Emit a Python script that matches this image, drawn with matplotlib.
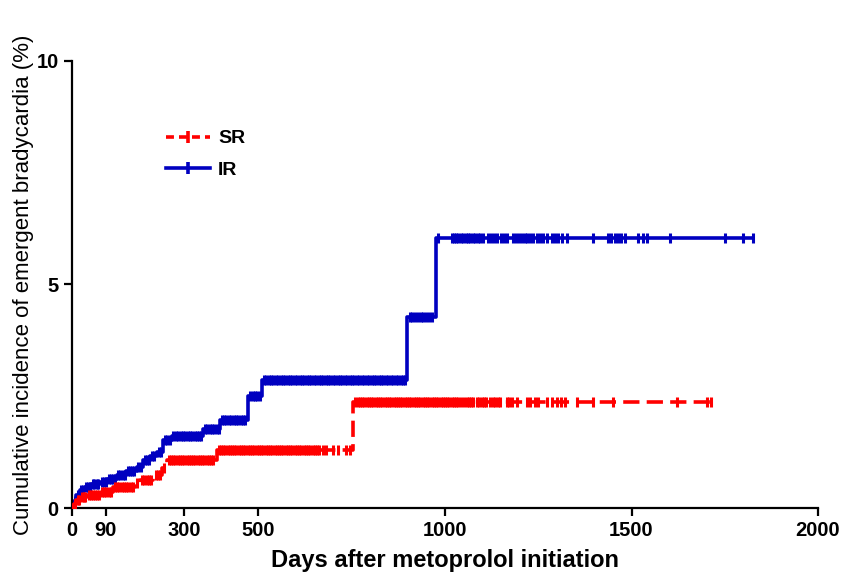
import numpy as np
import matplotlib
matplotlib.use("Agg")
import matplotlib.pyplot as plt

plt.rcParams['font.family'] = ['Liberation Sans', 'DejaVu Sans']

# IR (immediate release) step curve: event days and cumulative incidence (%)
ir_days = [0, 5, 12, 21, 35, 50, 75, 95, 120, 145, 173, 191, 210, 227, 245, 267, 352, 397, 473, 510, 898, 976]
ir_vals = [0, 0.15, 0.3, 0.4, 0.47, 0.53, 0.59, 0.66, 0.74, 0.82, 0.91, 1.07, 1.16, 1.26, 1.52, 1.62, 1.76, 1.97, 2.5, 2.86, 4.28, 6.05]
ir_end = 1827
ir_censor = [3, 8, 15, 18, 25, 30, 38, 43, 48, 55, 60, 66, 71, 80, 86, 91, 99, 104, 110, 116, 124, 130,
             136, 141, 150, 155, 161, 167, 178, 184, 196, 202, 206, 215, 220, 232, 238, 250, 256, 262,
             272, 278, 284, 291, 297, 303, 310, 316, 322, 329, 335, 341, 347, 357, 363, 369, 376, 382,
             388, 393, 402, 408, 414, 420, 427, 433, 440, 446, 452, 458, 465, 478, 484, 490, 497, 503,
             515, 521, 527, 533, 540, 546, 552, 559, 565, 571, 578, 584, 590, 597, 603, 610, 616, 622,
             629, 635, 641, 648, 655, 661, 667, 674, 680, 687, 693, 700, 706, 712, 719, 725, 732, 738,
             745, 751, 757, 764, 770, 777, 783, 790, 796, 803, 809, 816, 822, 829, 835, 842, 848, 855,
             861, 868, 874, 881, 887, 893, 905, 912, 920, 928, 935, 942, 950, 958, 965,
             980, 1018, 1024, 1030, 1036, 1042, 1049, 1055, 1062, 1068, 1075, 1081, 1088, 1094, 1103,
             1116, 1123, 1131, 1140, 1150, 1158, 1165, 1183, 1191, 1198, 1206, 1214, 1221, 1228, 1237,
             1246, 1256, 1264, 1273, 1286, 1295, 1304, 1314, 1326, 1398, 1438, 1445, 1455, 1463, 1471,
             1483, 1518, 1530, 1541, 1603, 1751, 1800, 1827]

# SR (sustained release) step curve
sr_days = [0, 5, 12, 21, 40, 75, 110, 169, 182, 218, 240, 254, 388, 754]
sr_vals = [0, 0.1, 0.18, 0.25, 0.3, 0.36, 0.47, 0.55, 0.63, 0.74, 0.9, 1.07, 1.3, 2.38]
sr_end = 1713
sr_censor = [3, 8, 15, 18, 26, 32, 36, 45, 50, 56, 62, 68, 72, 80, 86, 92, 98, 104, 115, 121, 127,
             133, 139, 145, 151, 157, 163, 175, 188, 194, 200, 206, 212, 224, 230, 236, 246, 259, 265,
             271, 277, 283, 289, 295, 301, 307, 313, 319, 325, 331, 337, 343, 349, 355, 361, 367, 373,
             379, 393, 399, 405, 411, 417, 423, 429, 435, 441, 447, 453, 459, 465, 471, 477, 483, 489,
             495, 501, 507, 513, 519, 525, 531, 537, 543, 549, 555, 561, 567, 573, 579, 585, 591, 597,
             603, 609, 615, 621, 627, 633, 639, 645, 651, 657, 663, 672, 680, 700, 712, 735, 745,
             760, 766, 772, 778, 784, 790, 796, 802, 808, 814, 820, 826, 832, 838, 844, 850, 856, 862,
             868, 874, 880, 886, 892, 898, 904, 910, 916, 922, 928, 934, 940, 946, 952, 958, 964, 970,
             976, 982, 988, 994, 1000, 1006, 1012, 1018, 1024, 1030, 1036, 1042, 1050, 1058, 1064,
             1070, 1076, 1085, 1092, 1098, 1104, 1110, 1120, 1128, 1135, 1141, 1147, 1165, 1172, 1180,
             1192, 1219, 1228, 1240, 1248, 1273, 1286, 1300, 1310, 1322, 1353, 1398, 1451, 1621, 1702,
             1713]

x_ticks = [0, 90, 300, 500, 1000, 1500, 2000]
y_ticks = [0, 5, 10]

blue = '#0000c0'
red = '#ff0000'


def step_value(days, vals, t):
    idx = np.searchsorted(days, t, side='right') - 1
    return np.array(vals)[idx]


fig = plt.figure(figsize=(8.49, 5.78), dpi=100)
ax = fig.add_axes([0.0848, 0.1211, 0.8787, 0.7734])

# curves
ax.step(ir_days + [ir_end], ir_vals + [ir_vals[-1]], where='post', color=blue, lw=2.6, zorder=2)
ax.step(sr_days + [sr_end], sr_vals + [sr_vals[-1]], where='post', color=red, lw=2.6,
        dashes=(4.5, 2), zorder=3)

# censor ticks
ax.plot(ir_censor, step_value(ir_days, ir_vals, ir_censor), ls='none', marker='|',
        ms=7.5, mew=2.2, color=blue, zorder=2)
ax.plot(sr_censor, step_value(sr_days, sr_vals, sr_censor), ls='none', marker='|',
        ms=7.5, mew=2.2, color=red, zorder=3)

# legend handles
h_sr, = ax.plot([], [], color=red, lw=2.6, dashes=(2.2, 1.4), marker='|', ms=9, mew=2.6)
h_ir, = ax.plot([], [], color=blue, lw=2.6, marker='|', ms=8, mew=2.6)
leg = ax.legend([h_sr, h_ir], ['SR', 'IR'], loc='upper left', bbox_to_anchor=(0.102, 0.885),
                frameon=False, numpoints=1, handlelength=2.3, handletextpad=0.4,
                labelspacing=0.7, prop={'weight': 'bold', 'size': 14})

ax.set_xlim(0, 2000)
ax.set_ylim(0, 10)
ax.set_xticks(x_ticks)
ax.set_yticks(y_ticks)
ax.spines['top'].set_visible(False)
ax.spines['right'].set_visible(False)
ax.spines['left'].set_linewidth(1.6)
ax.spines['bottom'].set_linewidth(1.6)
ax.tick_params(axis='both', direction='out', length=6, width=1.6, labelsize=14.5)
for lab in ax.get_xticklabels() + ax.get_yticklabels():
    lab.set_fontweight('bold')

ax.set_xlabel('Days after metoprolol initiation', fontsize=17, fontweight='bold', labelpad=6)
ax.set_ylabel('Cumulative incidence of emergent bradycardia (%)', fontsize=16, labelpad=2)

fig.savefig('out.png', dpi=100)
